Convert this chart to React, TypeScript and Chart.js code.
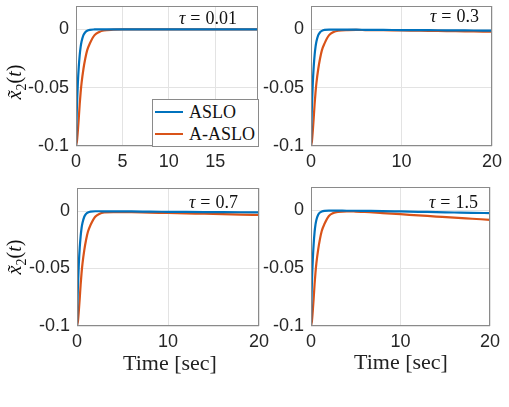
import React, { useEffect, useRef } from "react";
import { Chart, registerables } from "chart.js";

Chart.register(...registerables);

// ---------- data ----------
const T = [0, 0.05, 0.1, 0.2, 0.3, 0.4, 0.5, 0.6, 0.8, 1.0, 1.2, 1.5, 2, 2.5, 3, 4, 5, 6, 8, 10, 12, 14, 16, 18, 20];

const ASLO_TAU001 = [-0.1, -0.08, -0.066, -0.046, -0.032, -0.022, -0.015, -0.0105, -0.005, -0.0025, -0.0012, -0.0004, -0.0001, 0, 0, 0, 0, 0, 0, 0, 0, 0, 0, 0, 0];
const AASLO_TAU001 = [-0.1, -0.098, -0.096, -0.087, -0.076, -0.064, -0.054, -0.046, -0.034, -0.025, -0.018, -0.012, -0.005, -0.0022, -0.001, -0.0003, 0, 0, 0, 0, 0, 0, 0, 0, 0];

const ASLO_TAU03 = [-0.1, -0.08, -0.066, -0.046, -0.032, -0.022, -0.015, -0.0105, -0.005, -0.0025, -0.0013, -0.0005, -0.0002, -0.0002, -0.0002, -0.0003, -0.0003, -0.0004, -0.0005, -0.0006, -0.0007, -0.0008, -0.0009, -0.001, -0.0011];
const AASLO_TAU03 = [-0.1, -0.098, -0.096, -0.087, -0.076, -0.064, -0.054, -0.046, -0.034, -0.025, -0.018, -0.012, -0.005, -0.0023, -0.0012, -0.0006, -0.0005, -0.0006, -0.0008, -0.001, -0.0012, -0.0014, -0.0016, -0.0018, -0.002];

const ASLO_TAU07 = [-0.1, -0.08, -0.066, -0.046, -0.032, -0.022, -0.015, -0.0105, -0.005, -0.0025, -0.0013, -0.0005, -0.0002, -0.0002, -0.0003, -0.0003, -0.0004, -0.0004, -0.0006, -0.0007, -0.0008, -0.0009, -0.001, -0.0011, -0.0012];
const AASLO_TAU07 = [-0.1, -0.098, -0.096, -0.087, -0.076, -0.064, -0.054, -0.046, -0.034, -0.025, -0.018, -0.012, -0.005, -0.0023, -0.0013, -0.0009, -0.0009, -0.001, -0.0014, -0.0017, -0.0021, -0.0024, -0.0028, -0.0031, -0.0035];

const ASLO_TAU15 = [-0.1, -0.078, -0.063, -0.043, -0.029, -0.019, -0.0125, -0.0085, -0.004, -0.002, -0.0012, -0.0006, -0.0004, -0.0004, -0.0004, -0.0005, -0.0005, -0.0006, -0.0008, -0.0011, -0.0014, -0.0017, -0.002, -0.0023, -0.0025];
const AASLO_TAU15 = [-0.1, -0.098, -0.096, -0.087, -0.076, -0.064, -0.054, -0.046, -0.034, -0.025, -0.018, -0.012, -0.005, -0.0024, -0.0014, -0.001, -0.0012, -0.0015, -0.0025, -0.0035, -0.0045, -0.0055, -0.0065, -0.0074, -0.0083];

const TAU_LABELS = ["0.01", "0.3", "0.7", "1.5"];
const SERIES_NAMES = ["ASLO", "A-ASLO"];
const Y_TICKS = [-0.1, -0.05, 0];
const Y_TICK_LABELS = ["-0.1", "-0.05", "0"];
const X_TICKS_FIRST = [0, 5, 10, 15];
const X_TICKS_OTHER = [0, 10, 20];

const BLUE = "#0072BD";
const ORANGE = "#D95319";

type Panel = {
  blue: number[];
  orange: number[];
  xMax: number;
  xTicks: number[];
  rect: [number, number, number, number]; // left, top, right, bottom of plot area
  tau: string;
  tauPos: [number, number];
};

const PANELS: Panel[] = [
  { blue: ASLO_TAU001, orange: AASLO_TAU001, xMax: 19.6, xTicks: X_TICKS_FIRST, rect: [76, 6, 258, 146], tau: TAU_LABELS[0], tauPos: [237, 18] },
  { blue: ASLO_TAU03, orange: AASLO_TAU03, xMax: 20, xTicks: X_TICKS_OTHER, rect: [311, 6, 492, 146], tau: TAU_LABELS[1], tauPos: [479, 16] },
  { blue: ASLO_TAU07, orange: AASLO_TAU07, xMax: 20, xTicks: X_TICKS_OTHER, rect: [77, 188, 259, 326], tau: TAU_LABELS[2], tauPos: [238, 202] },
  { blue: ASLO_TAU15, orange: AASLO_TAU15, xMax: 20, xTicks: X_TICKS_OTHER, rect: [311, 187, 490, 326], tau: TAU_LABELS[3], tauPos: [478, 202] },
];

const Y_W = 70;
const X_H = 34;
const PAD_T = 10;
const PAD_R = 18;

const boxPlugin = {
  id: "boxPlugin",
  afterDraw(chart: any) {
    const { ctx, chartArea } = chart;
    ctx.save();
    ctx.strokeStyle = "#8a8a8a";
    ctx.lineWidth = 1;
    ctx.strokeRect(Math.round(chartArea.left) + 0.5, Math.round(chartArea.top) + 0.5, Math.round(chartArea.right - chartArea.left) - 1, Math.round(chartArea.bottom - chartArea.top) - 1);
    ctx.restore();
  },
};

function PanelChart({ p }: { p: Panel }) {
  const ref = useRef<HTMLCanvasElement | null>(null);
  const [l, t, r, b] = p.rect;
  const w = Y_W + (r - l) + PAD_R;
  const h = PAD_T + (b - t) + X_H;
  useEffect(() => {
    if (!ref.current) return;
    const chart = new Chart(ref.current, {
      type: "line",
      data: {
        datasets: [
          {
            label: SERIES_NAMES[0],
            data: T.map((x, i) => ({ x, y: p.blue[i] })),
            borderColor: BLUE,
            backgroundColor: BLUE,
            borderWidth: 2.2,
            pointRadius: 0,
            cubicInterpolationMode: "monotone",
          },
          {
            label: SERIES_NAMES[1],
            data: T.map((x, i) => ({ x, y: p.orange[i] })),
            borderColor: ORANGE,
            backgroundColor: ORANGE,
            borderWidth: 2.2,
            pointRadius: 0,
            cubicInterpolationMode: "monotone",
          },
        ],
      },
      options: {
        animation: false,
        responsive: false,
        devicePixelRatio: 1,
        layout: { padding: { left: 0, top: PAD_T, right: PAD_R, bottom: 0 } },
        plugins: { legend: { display: false }, tooltip: { enabled: false } },
        scales: {
          x: {
            type: "linear",
            min: 0,
            max: p.xMax,
            afterBuildTicks: (s: any) => {
              s.ticks = p.xTicks.map((v) => ({ value: v }));
            },
            afterFit: (s: any) => {
              s.height = X_H;
              s.paddingLeft = 0;
              s.paddingRight = 0;
              s.paddingTop = 0;
              s.paddingBottom = 0;
            },
            grid: { color: "#e3e3e3", drawTicks: false },
            border: { display: false },
            ticks: {
              autoSkip: false,
              maxRotation: 0,
              padding: 5,
              color: "#262626",
              font: { family: "Liberation Sans", size: 18 },
              callback: (v: any) => String(v),
            },
          },
          y: {
            type: "linear",
            min: -0.1,
            max: 0.02,
            afterBuildTicks: (s: any) => {
              s.ticks = Y_TICKS.map((v) => ({ value: v }));
            },
            afterFit: (s: any) => {
              s.width = Y_W;
              s.paddingLeft = 0;
              s.paddingRight = 0;
              s.paddingTop = 0;
              s.paddingBottom = 0;
            },
            grid: { color: "#e3e3e3", drawTicks: false },
            border: { display: false },
            ticks: {
              padding: 7,
              color: "#262626",
              font: { family: "Liberation Sans", size: 18 },
              callback: (v: any) => {
                const i = Y_TICKS.findIndex((q) => Math.abs(q - Number(v)) < 1e-9);
                return i >= 0 ? Y_TICK_LABELS[i] : "";
              },
            },
          },
        },
      },
      plugins: [boxPlugin],
    } as any);
    return () => chart.destroy();
  }, []);
  return (
    <canvas
      ref={ref}
      width={w}
      height={h}
      style={{ position: "absolute", left: l - Y_W, top: t - PAD_T, width: w, height: h }}
    />
  );
}

const serif = "'Liberation Serif', 'DejaVu Serif', serif";

export default function App() {
  return (
    <div style={{ position: "absolute", left: 0, top: 0, width: 509, height: 407, background: "#fff", overflow: "hidden" }}>
      {PANELS.map((p, i) => (
        <PanelChart key={i} p={p} />
      ))}
      {PANELS.map((p, i) => (
        <div
          key={"tau" + i}
          style={{
            position: "absolute",
            left: p.tauPos[0],
            top: p.tauPos[1],
            transform: "translate(-100%, -50%)",
            fontFamily: serif,
            fontSize: 18,
            whiteSpace: "nowrap",
            color: "#111",
            lineHeight: "20px",
          }}
        >
          <i>τ</i>
          <span style={{ margin: "0 5px" }}>=</span>
          {p.tau}
        </div>
      ))}
      {/* legend */}
      <div
        style={{
          position: "absolute",
          left: 152,
          top: 99,
          width: 105,
          height: 46,
          border: "1px solid #8a8a8a",
          background: "#fff",
          fontFamily: serif,
          fontSize: 18,
          color: "#111",
        }}
      >
        {[BLUE, ORANGE].map((c, i) => (
          <div key={i} style={{ position: "absolute", left: 2, top: 2 + i * 22, height: 20, display: "flex", alignItems: "center" }}>
            <div style={{ width: 28, height: 2.4, background: c, marginRight: 6 }} />
            <span style={{ lineHeight: "20px" }}>{SERIES_NAMES[i]}</span>
          </div>
        ))}
      </div>
      {/* y labels */}
      {[82, 257].map((cy, i) => (
        <div
          key={"yl" + i}
          style={{
            position: "absolute",
            left: 18,
            top: cy,
            transform: "translate(-50%, -50%) rotate(-90deg)",
            fontFamily: serif,
            fontSize: 20,
            whiteSpace: "nowrap",
            color: "#111",
            lineHeight: "22px",
          }}
        >
          <i>x̃</i>
          <sub style={{ fontSize: 14 }}>2</sub>(<i>t</i>)
        </div>
      ))}
      {/* x labels */}
      {[
        [170, 363],
        [401, 362],
      ].map(([cx, cy], i) => (
        <div
          key={"xl" + i}
          style={{
            position: "absolute",
            left: cx,
            top: cy,
            transform: "translate(-50%, -50%)",
            fontFamily: serif,
            fontSize: 22,
            whiteSpace: "nowrap",
            color: "#222",
            lineHeight: "24px",
          }}
        >
          Time [sec]
        </div>
      ))}
    </div>
  );
}
